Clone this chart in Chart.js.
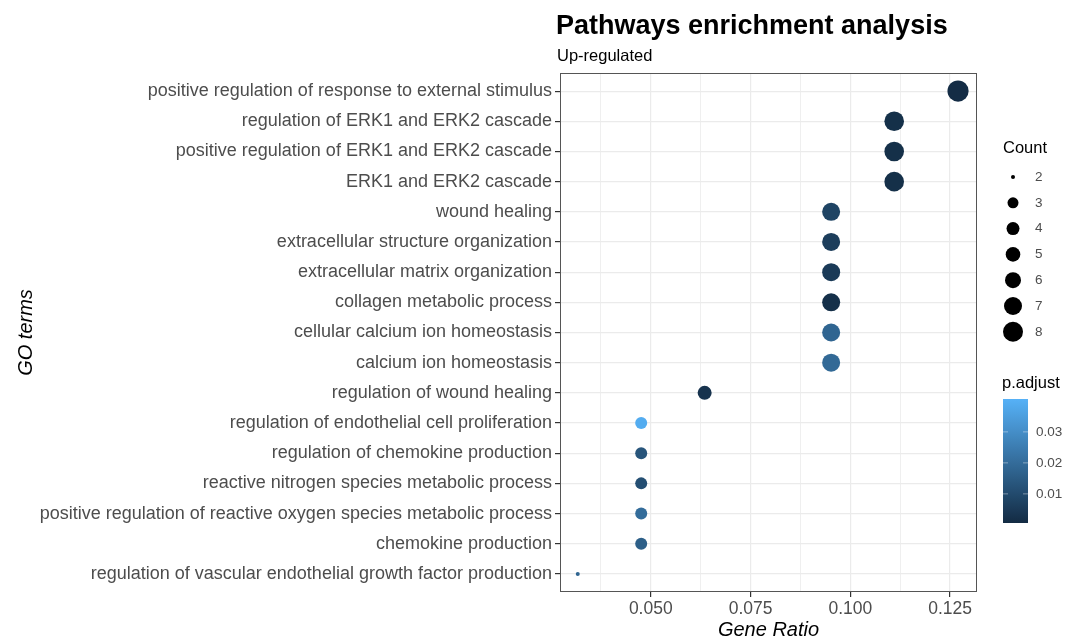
<!DOCTYPE html>
<html>
<head>
<meta charset="utf-8">
<script src="https://cdn.jsdelivr.net/npm/chart.js@4.4.0/dist/chart.umd.min.js"></script>
<style>
  html, body { margin: 0; padding: 0; background: #fff; }
  #wrap { width: 1076px; height: 642px; position: relative; }
</style>
</head>
<body>
<div id="wrap"><canvas id="dotChart"></canvas></div>
<script>
const terms = [
  'positive regulation of response to external stimulus',
  'regulation of ERK1 and ERK2 cascade',
  'positive regulation of ERK1 and ERK2 cascade',
  'ERK1 and ERK2 cascade',
  'wound healing',
  'extracellular structure organization',
  'extracellular matrix organization',
  'collagen metabolic process',
  'cellular calcium ion homeostasis',
  'calcium ion homeostasis',
  'regulation of wound healing',
  'regulation of endothelial cell proliferation',
  'regulation of chemokine production',
  'reactive nitrogen species metabolic process',
  'positive regulation of reactive oxygen species metabolic process',
  'chemokine production',
  'regulation of vascular endothelial growth factor production'
];
const geneRatio = [0.127, 0.111, 0.111, 0.111, 0.0952, 0.0952, 0.0952, 0.0952, 0.0952, 0.0952, 0.0635, 0.0476, 0.0476, 0.0476, 0.0476, 0.0476, 0.0317];
const counts = [8, 7, 7, 7, 6, 6, 6, 6, 6, 6, 4, 3, 3, 3, 3, 3, 2];
const pAdjust = [0.001, 0.002, 0.002, 0.002, 0.008, 0.006, 0.005, 0.002, 0.018, 0.019, 0.003, 0.039, 0.013, 0.011, 0.02, 0.016, 0.018];
const xTicks = [0.05, 0.075, 0.1, 0.125];
const countLegend = [2, 3, 4, 5, 6, 7, 8];
const pTicks = [0.03, 0.02, 0.01];

const pMin = 0.0006, pMax = 0.0406;
const lowCol = [19, 43, 67], highCol = [86, 177, 247];
function pColor(p) {
  const t = Math.max(0, Math.min(1, (p - pMin) / (pMax - pMin)));
  const c = lowCol.map((v, i) => Math.round(v + (highCol[i] - v) * t));
  return `rgb(${c[0]},${c[1]},${c[2]})`;
}
const sizeR = { 2: 2, 3: 6, 4: 7, 5: 8, 6: 9, 7: 9.8, 8: 10.6 };
const legendR = { 2: 2, 3: 5.5, 4: 6.5, 5: 7.3, 6: 8, 7: 9, 8: 10 };
const textCol = '#4d4d4d';
const FONT = '"Liberation Sans", Arial, sans-serif';

const extras = {
  id: 'extras',
  afterDraw(chart) {
    const ctx = chart.ctx;
    const a = chart.chartArea;
    ctx.save();
    ctx.strokeStyle = '#555';
    ctx.lineWidth = 1;
    ctx.strokeRect(a.left + 0.5, a.top + 0.5, a.right - a.left - 1, a.bottom - a.top - 1);

    ctx.fillStyle = '#000';
    ctx.textAlign = 'left';
    ctx.textBaseline = 'middle';
    ctx.font = 'bold 27px ' + FONT;
    ctx.fillText('Pathways enrichment analysis', 556, 27);
    ctx.font = '16.5px ' + FONT;
    ctx.fillText('Up-regulated', 557, 56);

    ctx.font = 'italic 20px ' + FONT;
    ctx.textAlign = 'center';
    ctx.fillText('Gene Ratio', (a.left + a.right) / 2, 630);
    ctx.save();
    ctx.translate(26, (a.top + a.bottom) / 2);
    ctx.rotate(-Math.PI / 2);
    ctx.fillText('GO terms', 0, 0);
    ctx.restore();

    // size legend
    ctx.textAlign = 'left';
    ctx.font = '16.5px ' + FONT;
    ctx.fillStyle = '#000';
    ctx.fillText('Count', 1003, 148);
    ctx.font = '13.5px ' + FONT;
    countLegend.forEach((c, i) => {
      const y = 177 + i * 25.8;
      ctx.fillStyle = '#000';
      ctx.beginPath();
      ctx.arc(1013, y, legendR[c], 0, Math.PI * 2);
      ctx.fill();
      ctx.fillStyle = textCol;
      ctx.fillText(String(c), 1035, y);
    });

    // colour bar
    ctx.fillStyle = '#000';
    ctx.font = '16.5px ' + FONT;
    ctx.fillText('p.adjust', 1002, 383);
    const bx = 1003, bw = 25, by = 399, bh = 124;
    const g = ctx.createLinearGradient(0, by + bh, 0, by);
    for (let k = 0; k <= 10; k++) {
      g.addColorStop(k / 10, pColor(pMin + (pMax - pMin) * k / 10));
    }
    ctx.fillStyle = g;
    ctx.fillRect(bx, by, bw, bh);
    ctx.font = '13.5px ' + FONT;
    pTicks.forEach(p => {
      const y = by + bh - (p - pMin) / (pMax - pMin) * bh;
      ctx.strokeStyle = 'rgba(255,255,255,0.4)';
      ctx.beginPath();
      ctx.moveTo(bx, y); ctx.lineTo(bx + 5, y);
      ctx.moveTo(bx + bw - 5, y); ctx.lineTo(bx + bw, y);
      ctx.stroke();
      ctx.fillStyle = textCol;
      ctx.fillText(p.toFixed(2), 1036, y);
    });
    ctx.restore();
  }
};

new Chart(document.getElementById('dotChart'), {
  type: 'bubble',
  data: {
    datasets: [{
      data: terms.map((t, i) => ({ x: geneRatio[i], y: i, r: sizeR[counts[i]] })),
      backgroundColor: pAdjust.map(pColor),
      borderWidth: 0,
      hoverBorderWidth: 0
    }]
  },
  options: {
    responsive: true,
    maintainAspectRatio: false,
    animation: false,
    layout: { padding: { left: 0, right: 99, top: 73, bottom: 0 } },
    plugins: { legend: { display: false }, tooltip: { enabled: false } },
    scales: {
      x: {
        type: 'linear',
        min: 0.02725,
        max: 0.13175,
        afterBuildTicks: s => { s.ticks = [0.0375, 0.05, 0.0625, 0.075, 0.0875, 0.1, 0.1125, 0.125].map(v => ({ value: v })); },
        afterFit: s => { s.height = 50; },
        grid: {
          color: '#ebebeb',
          lineWidth: c => xTicks.some(v => Math.abs(v - c.tick.value) < 1e-6) ? 1.2 : 0.8,
          tickColor: c => xTicks.some(v => Math.abs(v - c.tick.value) < 1e-6) ? '#333' : 'rgba(0,0,0,0)',
          tickLength: 5
        },
        border: { display: false },
        ticks: {
          autoSkip: false,
          maxRotation: 0,
          padding: 2,
          color: textCol,
          font: { size: 17.5, family: FONT },
          callback: v => xTicks.some(t => Math.abs(t - v) < 1e-6) ? Number(v).toFixed(3) : ''
        }
      },
      y: {
        type: 'linear',
        min: -0.6,
        max: 16.6,
        reverse: true,
        afterBuildTicks: s => { s.ticks = terms.map((t, i) => ({ value: i })); },
        afterFit: s => { s.width = 560; },
        grid: { color: '#ebebeb', lineWidth: 1.2, tickColor: '#333', tickLength: 5 },
        border: { display: false },
        ticks: {
          autoSkip: false,
          padding: 3,
          color: textCol,
          font: { size: 18, family: FONT },
          callback: v => terms[v] || ''
        }
      }
    }
  },
  plugins: [extras]
});
</script>
</body>
</html>
